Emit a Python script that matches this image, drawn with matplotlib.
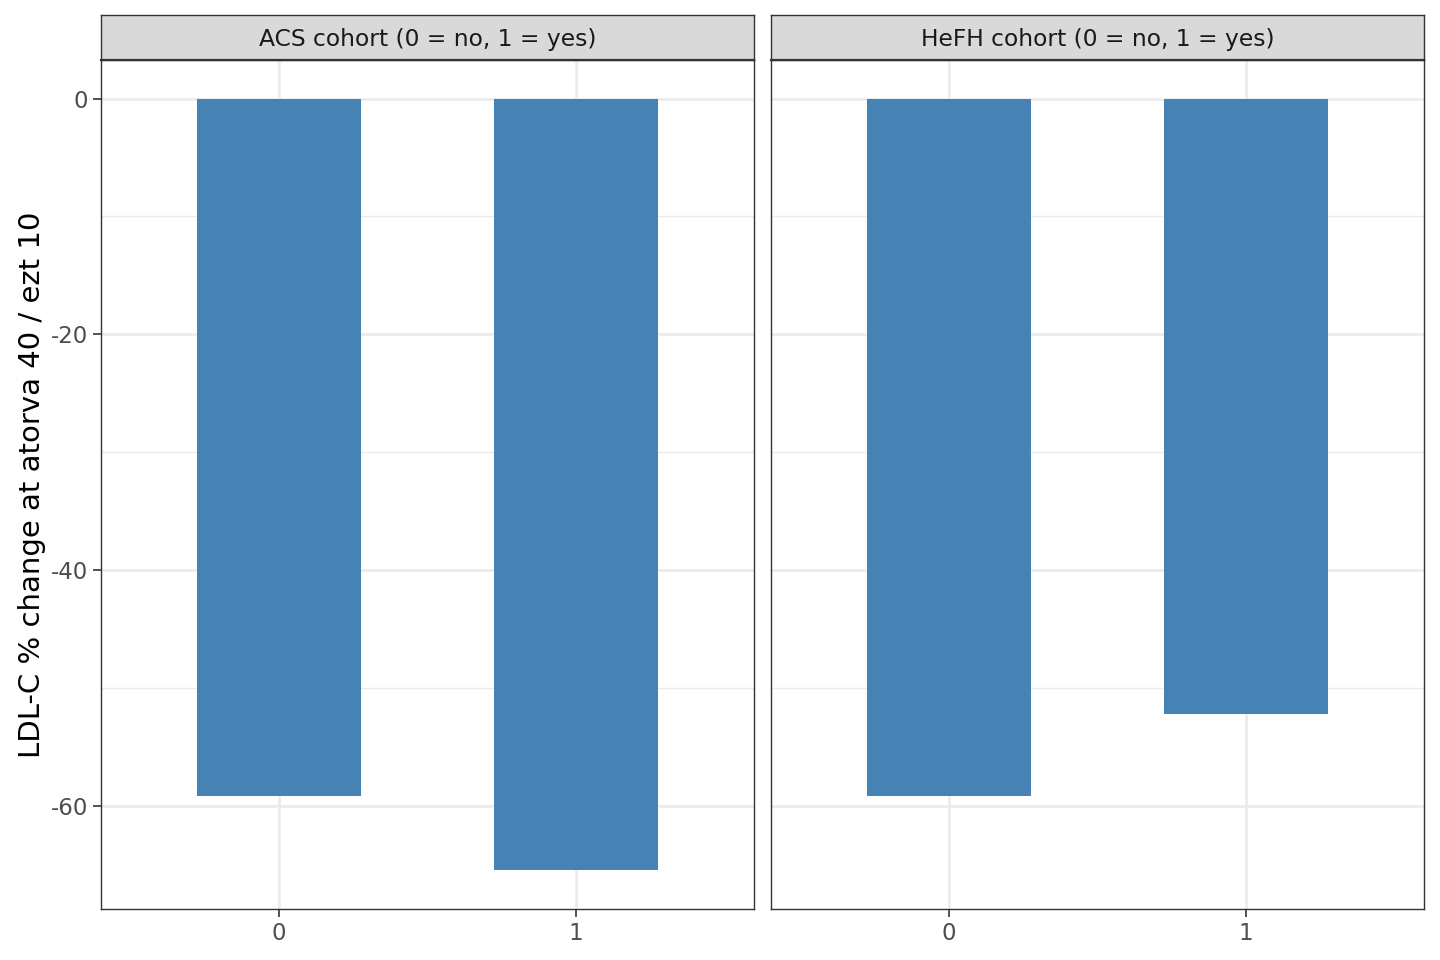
import matplotlib
matplotlib.use("Agg")
import matplotlib.pyplot as plt
import numpy as np

cohorts = ["ACS cohort (0 = no, 1 = yes)", "HeFH cohort (0 = no, 1 = yes)"]
groups = ["0", "1"]
acs_change = [-59.2, -65.5]
hefh_change = [-59.2, -52.2]
y_ticks = [0, -20, -40, -60]
y_minor = [-10, -30, -50]

BAR_COLOR = "#4682B4"
GRID = "#EBEBEB"
BORDER = "#333333"

plt.rcParams["font.family"] = ["DejaVu Sans"]

fig = plt.figure(figsize=(14.4, 9.6), dpi=100)

all_vals = np.array(acs_change + hefh_change + [0])
span = all_vals.max() - all_vals.min()
ylim = (all_vals.min() - 0.05 * span, all_vals.max() + 0.05 * span)

panel_lefts = [101 / 1440, 771 / 1440]
panel_w = 653 / 1440
panel_bottom = 1 - 909 / 960
panel_h = (909 - 60) / 960
strip_bottom = 1 - 60 / 960
strip_h = 45 / 960

for i, (name, vals) in enumerate(zip(cohorts, [acs_change, hefh_change])):
    ax = fig.add_axes([panel_lefts[i], panel_bottom, panel_w, panel_h])
    x = np.arange(len(groups))
    ax.bar(x, vals, width=0.55, color=BAR_COLOR, zorder=3)
    ax.set_xlim(-0.6, len(groups) - 1 + 0.6)
    ax.set_ylim(*ylim)
    ax.set_xticks(x)
    ax.set_xticklabels(groups)
    ax.set_yticks(y_ticks)
    ax.set_yticks(y_minor, minor=True)
    ax.grid(True, which="major", color=GRID, linewidth=1.9, zorder=0)
    ax.grid(True, which="minor", axis="y", color=GRID, linewidth=1.0, zorder=0)
    ax.set_axisbelow(True)
    ax.tick_params(axis="both", which="major", length=5.5, width=1.2, color=BORDER,
                   labelsize=16.5, labelcolor="#4D4D4D", pad=4)
    ax.tick_params(axis="x", which="major", pad=4)
    ax.tick_params(axis="y", which="minor", length=0)
    for s in ax.spines.values():
        s.set_color(BORDER)
        s.set_linewidth(1.0)
        s.set_zorder(5)
    if i == 0:
        ax.set_yticklabels([str(t) for t in y_ticks])
        ax.set_ylabel("LDL-C % change at atorva 40 / ezt 10", fontsize=21,
                      color="black", labelpad=3)
    else:
        ax.tick_params(axis="y", which="major", length=0, labelleft=False)

    sax = fig.add_axes([panel_lefts[i], strip_bottom, panel_w, strip_h])
    sax.set_facecolor("#D9D9D9")
    sax.set_xticks([])
    sax.set_yticks([])
    for s in sax.spines.values():
        s.set_color(BORDER)
        s.set_linewidth(1.0)
    sax.spines["bottom"].set_linewidth(1.6)
    sax.text(0.5, 0.46, name, ha="center", va="center", fontsize=16.8,
             color="#1A1A1A", transform=sax.transAxes)

fig.savefig("out.png", dpi=100)
